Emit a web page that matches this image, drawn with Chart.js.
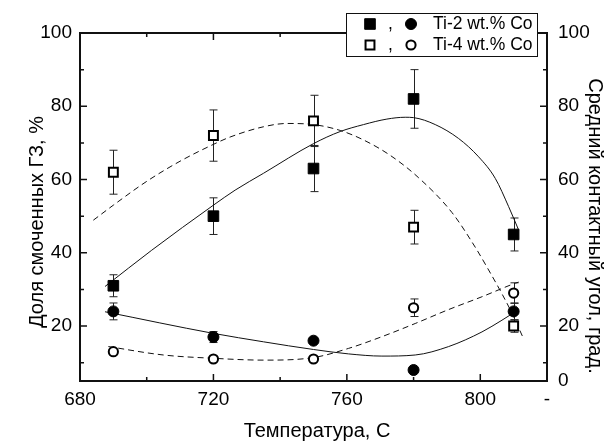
<!DOCTYPE html>
<html>
<head>
<meta charset="utf-8">
<script src="https://cdn.jsdelivr.net/npm/chart.js@4.4.1/dist/chart.umd.min.js"></script>
<style>
  html, body { margin: 0; padding: 0; background: #fff; }
  canvas { display: block; }
</style>
</head>
<body>
<canvas id="chart" width="607" height="441"></canvas>
<script>
// Measured points: temperature (C) and values with error half-widths
const temperatures = [690, 720, 750, 780, 810];
const wetTi2 = [31, 50, 63, 82, 45];
const wetTi2Err = [3, 5, 6.3, 8, 4.5];
const wetTi4 = [62, 72, 76, 47, 20];
const wetTi4Err = [6, 7, 7, 4.6, 1.7];
const angleTi2 = [24, 17, 16, 8, 24];
const angleTi2Err = [2.3, 1.5, null, null, 2.3];
const angleTi4 = [13, 11, 11, 25, 29];
const angleTi4Err = [null, null, null, 2.4, 2.8];

// Trend curves, sampled along temperature
const fitWetTi2X = [687.5, 701.5, 720, 726.5, 735, 750, 758, 765, 772, 777.5, 780, 786.5, 793.5, 799.5, 804.5, 808.5, 811.5];
const fitWetTi2Y = [30.8, 40.7, 53.0, 57.1, 61.7, 69.8, 73.1, 75.0, 76.5, 77.0, 76.9, 75.0, 71.2, 66.2, 60.3, 52.6, 46.2];
const fitWetTi4X = [684, 690, 700, 710, 720, 725, 735, 742, 750, 758, 765, 773, 781.5, 791.5, 798.5, 802.5, 806.5, 809.5, 812.7];
const fitWetTi4Y = [48.9, 53.0, 59.5, 65.0, 69.6, 71.6, 74.4, 75.3, 75.0, 73.4, 70.8, 66.6, 60.5, 51.0, 41.5, 35.3, 28.8, 23.5, 17.1];
const fitAngleTi2X = [687.5, 720, 735, 750, 760.5, 770.5, 780.5, 790.5, 800.5, 806.5, 810.5, 811.5];
const fitAngleTi2Y = [23.9, 18.0, 15.7, 13.6, 12.4, 11.8, 12.1, 14.4, 18.4, 21.6, 23.9, 24.5];
const fitAngleTi4X = [688.5, 705, 720, 735, 750, 760.5, 770.5, 780.5, 790.5, 800.5, 810.5, 811.5];
const fitAngleTi4Y = [14.4, 12.1, 11.2, 10.7, 11.4, 13.9, 17.1, 20.7, 24.5, 28.0, 31.7, 32.0];

// Axis ticks and their labels
const xTickValues = [680, 700, 720, 740, 760, 780, 800, 820];
const xTickLabels = ['680', '', '720', '', '760', '', '800', '-'];
const yTickValues = [10, 20, 30, 40, 50, 60, 70, 80, 90, 100];
const yTickLabels = ['', '20', '', '40', '', '60', '', '80', '', '100'];
const y2TickValues = [5, 10, 20, 30, 40, 50, 60, 70, 80, 90, 100];
const y2TickLabels = ['0', '', '20', '', '40', '', '60', '', '80', '', '100'];

const legendRows = ['Ti-2 wt.% Co', 'Ti-4 wt.% Co'];
const xTitle = 'Температура, С';
const yTitle = 'Доля смоченных ГЗ, %';
const y2Title = 'Средний контактный угол, град.';

const FONT = '"Liberation Sans", Arial, sans-serif';
const INK = '#111';

const pts = (xs, ys) => xs.map((x, i) => ({ x, y: ys[i] }));

const markerStyles = {
  sqFilled: { pointStyle: 'rect', radius: 7.5, fill: '#000', stroke: '#000', width: 1 },
  sqOpen:   { pointStyle: 'rect', radius: 6.3, fill: '#fff', stroke: '#000', width: 2 },
  ciFilled: { pointStyle: 'circle', radius: 5.5, fill: '#000', stroke: '#000', width: 1 },
  ciOpen:   { pointStyle: 'circle', radius: 4.6, fill: '#fff', stroke: '#000', width: 2 }
};

function fitLine(xs, ys, axis, dashed) {
  return {
    type: 'line', data: pts(xs, ys), yAxisID: axis,
    borderColor: INK, borderWidth: 1, borderDash: dashed ? [6, 4] : [],
    pointRadius: 0, pointHoverRadius: 0, fill: false,
    cubicInterpolationMode: 'monotone', clip: false, order: 2
  };
}

function markers(ys, errs, axis, key) {
  const m = markerStyles[key];
  return {
    type: 'scatter', data: pts(temperatures, ys), yAxisID: axis,
    errors: errs,
    pointStyle: m.pointStyle, pointRadius: m.radius, pointHoverRadius: m.radius,
    backgroundColor: m.fill, borderColor: m.stroke, borderWidth: m.width,
    clip: false, order: 1
  };
}

function drawMarker(ctx, key, x, y) {
  const m = markerStyles[key];
  ctx.save();
  ctx.fillStyle = m.fill;
  ctx.strokeStyle = m.stroke;
  ctx.lineWidth = m.width;
  ctx.beginPath();
  if (m.pointStyle === 'rect') {
    const s = m.radius * Math.SQRT1_2;
    ctx.rect(x - s, y - s, 2 * s, 2 * s);
  } else {
    ctx.arc(x, y, m.radius, 0, Math.PI * 2);
  }
  ctx.fill();
  ctx.stroke();
  ctx.restore();
}

const decor = {
  id: 'decor',
  beforeDatasetsDraw(chart) {
    const ctx = chart.ctx;
    const xs = chart.scales.x;
    ctx.save();
    ctx.strokeStyle = '#222';
    ctx.lineWidth = 1;
    chart.data.datasets.forEach(ds => {
      if (!ds.errors) return;
      const ys = chart.scales[ds.yAxisID];
      ds.data.forEach((p, i) => {
        const e = ds.errors[i];
        if (e == null) return;
        const px = Math.round(xs.getPixelForValue(p.x)) + 0.5;
        const top = ys.getPixelForValue(p.y + e);
        const bot = ys.getPixelForValue(p.y - e);
        ctx.beginPath();
        ctx.moveTo(px, top); ctx.lineTo(px, bot);
        ctx.moveTo(px - 4, top); ctx.lineTo(px + 4, top);
        ctx.moveTo(px - 4, bot); ctx.lineTo(px + 4, bot);
        ctx.stroke();
      });
    });
    ctx.restore();
  },
  afterDraw(chart) {
    const ctx = chart.ctx;
    const a = chart.chartArea;
    const xs = chart.scales.x, yl = chart.scales.y, yr = chart.scales.y2;
    ctx.save();
    ctx.strokeStyle = INK;
    ctx.lineWidth = 2;
    ctx.strokeRect(a.left, a.top, a.right - a.left, a.bottom - a.top);

    // inward tick marks on all four sides
    ctx.lineWidth = 1.5;
    ctx.beginPath();
    xTickValues.forEach((v, i) => {
      if (v === xs.min || v === xs.max) return;
      const len = xTickLabels[i] ? 7 : 4;
      const px = xs.getPixelForValue(v);
      ctx.moveTo(px, a.bottom); ctx.lineTo(px, a.bottom - len);
      ctx.moveTo(px, a.top); ctx.lineTo(px, a.top + len);
    });
    yTickValues.forEach((v, i) => {
      if (v === yl.min || v === yl.max) return;
      const len = yTickLabels[i] ? 7 : 4;
      const py = yl.getPixelForValue(v);
      ctx.moveTo(a.left, py); ctx.lineTo(a.left + len, py);
    });
    y2TickValues.forEach((v, i) => {
      if (v === yr.min || v === yr.max) return;
      const len = y2TickLabels[i] ? 7 : 4;
      const py = yr.getPixelForValue(v);
      ctx.moveTo(a.right, py); ctx.lineTo(a.right - len, py);
    });
    ctx.stroke();

    // axis titles
    ctx.fillStyle = '#000';
    ctx.font = '20px ' + FONT;
    ctx.textAlign = 'center';
    ctx.textBaseline = 'middle';
    ctx.fillText(xTitle, 317, 431);
    ctx.save();
    ctx.translate(37, 222);
    ctx.rotate(-Math.PI / 2);
    ctx.fillText(yTitle, 0, 0);
    ctx.restore();
    ctx.save();
    ctx.translate(595, 226);
    ctx.rotate(Math.PI / 2);
    ctx.fillText(y2Title, 0, 0);
    ctx.restore();

    // legend box
    const bx = 346, by = 13, bw = 191, bh = 43;
    ctx.fillStyle = '#fff';
    ctx.fillRect(bx, by, bw, bh);
    ctx.lineWidth = 1;
    ctx.strokeStyle = INK;
    ctx.strokeRect(bx + 0.5, by + 0.5, bw, bh);
    const rowsY = [24, 45];
    const rowKeys = [['sqFilled', 'ciFilled'], ['sqOpen', 'ciOpen']];
    rowsY.forEach((ry, r) => {
      drawMarker(ctx, rowKeys[r][0], 370, ry);
      drawMarker(ctx, rowKeys[r][1], 411, ry);
      ctx.fillStyle = '#000';
      ctx.font = '17.5px ' + FONT;
      ctx.textAlign = 'left';
      ctx.textBaseline = 'middle';
      ctx.fillText(',', 388, ry);
      ctx.fillText(legendRows[r], 433, ry);
    });
    ctx.restore();
  }
};

const tickFont = { family: FONT, size: 19 };

new Chart(document.getElementById('chart'), {
  type: 'scatter',
  data: {
    datasets: [
      fitLine(fitWetTi2X, fitWetTi2Y, 'y', false),
      fitLine(fitWetTi4X, fitWetTi4Y, 'y', true),
      fitLine(fitAngleTi2X, fitAngleTi2Y, 'y2', false),
      fitLine(fitAngleTi4X, fitAngleTi4Y, 'y2', true),
      markers(wetTi2, wetTi2Err, 'y', 'sqFilled'),
      markers(wetTi4, wetTi4Err, 'y', 'sqOpen'),
      markers(angleTi2, angleTi2Err, 'y2', 'ciFilled'),
      markers(angleTi4, angleTi4Err, 'y2', 'ciOpen')
    ]
  },
  options: {
    responsive: false,
    animation: false,
    devicePixelRatio: 1,
    layout: { padding: { top: 33, left: 0, right: 0, bottom: 0 } },
    plugins: { legend: { display: false }, tooltip: { enabled: false } },
    events: [],
    scales: {
      x: {
        type: 'linear', position: 'bottom', min: 680, max: 820,
        grid: { display: false, drawTicks: false },
        border: { display: false },
        afterBuildTicks(s) { s.ticks = xTickValues.map(v => ({ value: v })); },
        afterFit(s) { s.height = 60; },
        ticks: {
          font: tickFont, color: '#000', padding: 7, maxRotation: 0, autoSkip: false,
          callback: (v, i) => xTickLabels[i]
        }
      },
      y: {
        type: 'linear', position: 'left', min: 5, max: 100,
        grid: { display: false, drawTicks: false },
        border: { display: false },
        afterBuildTicks(s) { s.ticks = yTickValues.map(v => ({ value: v })); },
        afterFit(s) { s.width = 80; },
        ticks: {
          font: tickFont, color: '#000', padding: 8, autoSkip: false,
          callback: (v, i) => yTickLabels[i]
        }
      },
      y2: {
        type: 'linear', position: 'right', min: 5, max: 100,
        grid: { display: false, drawTicks: false },
        border: { display: false },
        afterBuildTicks(s) { s.ticks = y2TickValues.map(v => ({ value: v })); },
        afterFit(s) { s.width = 60; },
        ticks: {
          font: tickFont, color: '#000', padding: 11, autoSkip: false,
          callback: (v, i) => y2TickLabels[i]
        }
      }
    }
  },
  plugins: [decor]
});
</script>
</body>
</html>
